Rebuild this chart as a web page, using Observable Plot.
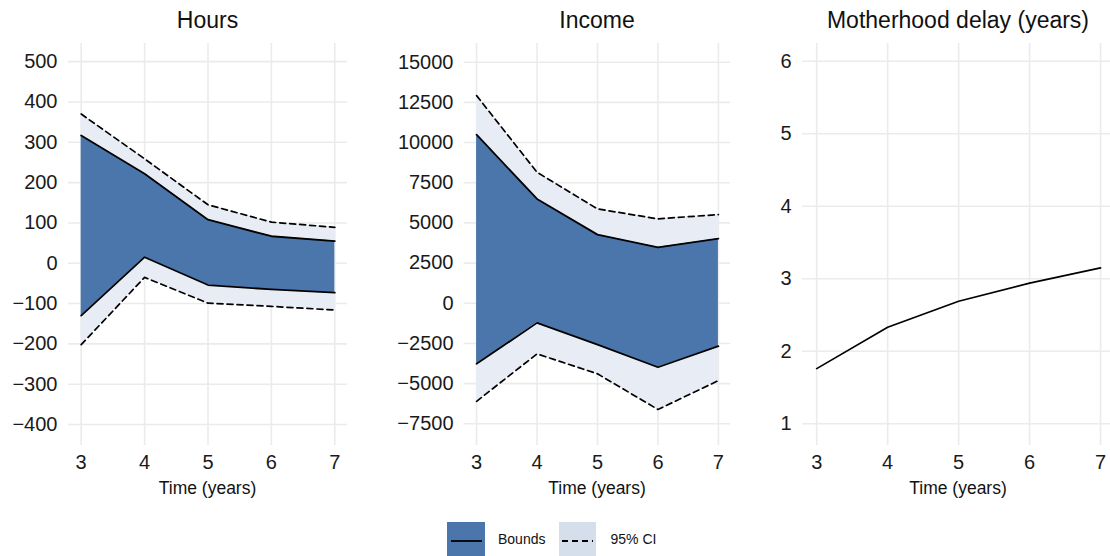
<!DOCTYPE html>
<html>
<head>
<meta charset="utf-8">
<script src="https://cdn.jsdelivr.net/npm/d3@7"></script>
<script src="https://cdn.jsdelivr.net/npm/@observablehq/plot@0.6"></script>
<style>
  body { margin: 0; background: #fff; font-family: "Liberation Sans", Arial, sans-serif; color: #111; }
  #wrap { position: relative; width: 1110px; height: 556px; overflow: hidden; background: #fff; }
  .panel { position: absolute; top: 35px; }
  .title { position: absolute; top: 8px; height: 24px; line-height: 24px; font-size: 23px; text-align: center; white-space: nowrap; }
  .xlab { position: absolute; top: 479px; height: 18px; line-height: 18px; font-size: 17.5px; text-align: center; white-space: nowrap; }
  .legend { position: absolute; top: 522px; left: 447px; height: 34px; display: flex; align-items: center; font-size: 14px; }
  .legend svg { display: block; }
</style>
</head>
<body>
<div id="wrap"></div>
<script>
// ---- data ----
const years = [3, 4, 5, 6, 7];

const hoursCiUpper    = [370, 259, 145, 102, 89];
const hoursBoundUpper = [317, 222, 108, 67, 55];
const hoursBoundLower = [-130, 15, -54, -65, -73];
const hoursCiLower    = [-202, -35, -99, -107, -116];

const incomeCiUpper    = [12920, 8150, 5870, 5250, 5520];
const incomeBoundUpper = [10490, 6490, 4270, 3480, 4020];
const incomeBoundLower = [-3770, -1220, -2570, -3980, -2670];
const incomeCiLower    = [-6100, -3150, -4390, -6610, -4810];

const motherhoodDelay = [1.76, 2.33, 2.69, 2.94, 3.15];

const hoursTicks  = [-400, -300, -200, -100, 0, 100, 200, 300, 400, 500];
const incomeTicks = [-7500, -5000, -2500, 0, 2500, 5000, 7500, 10000, 12500, 15000];
const delayTicks  = [1, 2, 3, 4, 5, 6];

const panelTitles = ["Hours", "Income", "Motherhood delay (years)"];
const xLabel = "Time (years)";
const legendLabels = ["Bounds", "95% CI"];

// ---- styling ----
const boundsFill = "#4a76ab";
const ciFill = "#e8edf5";
const ciKeyFill = "#d5deeb";
const gridColor = "#ebebeb";
const fmt = d => (d < 0 ? "\u2212" + Math.abs(d) : String(d));

const wrap = document.getElementById("wrap");

function addDiv(cls, text, left, width) {
  const d = document.createElement("div");
  d.className = cls;
  d.textContent = text;
  d.style.left = left + "px";
  d.style.width = width + "px";
  wrap.appendChild(d);
}

function panel({left, width, marginLeft, marginRight, xDomain, yDomain, ticks, ribbons, lineValues, title}) {
  const marks = [
    Plot.ruleX(years, {stroke: gridColor, strokeWidth: 1.6}),
    Plot.ruleY(ticks, {stroke: gridColor, strokeWidth: 1.6})
  ];
  if (ribbons) {
    const rows = years.map((x, i) => ({
      x,
      ciU: ribbons.ciU[i], bU: ribbons.bU[i], bL: ribbons.bL[i], ciL: ribbons.ciL[i]
    }));
    marks.push(
      Plot.areaY(rows, {x: "x", y1: "ciL", y2: "ciU", fill: ciFill}),
      Plot.areaY(rows, {x: "x", y1: "bL", y2: "bU", fill: boundsFill}),
      Plot.line(rows, {x: "x", y: "ciU", stroke: "#000", strokeWidth: 1.7, strokeDasharray: "6,4"}),
      Plot.line(rows, {x: "x", y: "ciL", stroke: "#000", strokeWidth: 1.7, strokeDasharray: "6,4"}),
      Plot.line(rows, {x: "x", y: "bU", stroke: "#000", strokeWidth: 1.8}),
      Plot.line(rows, {x: "x", y: "bL", stroke: "#000", strokeWidth: 1.8})
    );
  }
  if (lineValues) {
    const rows = years.map((x, i) => ({x, y: lineValues[i]}));
    marks.push(Plot.line(rows, {x: "x", y: "y", stroke: "#000", strokeWidth: 1.7}));
  }
  const svg = Plot.plot({
    width,
    height: 470,
    marginTop: 8,
    marginBottom: 60,
    marginLeft,
    marginRight,
    style: {fontFamily: "'Liberation Sans', Arial, sans-serif", fontSize: "20px", color: "#1a1a1a", background: "transparent", overflow: "visible"},
    x: {domain: xDomain, ticks: years, tickSize: 0, tickPadding: 9, tickFormat: fmt, label: null},
    y: {domain: yDomain, ticks, tickSize: 0, tickPadding: 11, tickFormat: fmt, label: null},
    marks
  });
  svg.classList.add("panel");
  svg.style.left = left + "px";
  svg.style.position = "absolute";
  svg.style.top = "35px";
  wrap.appendChild(svg);
  const plotLeft = left + marginLeft;
  const plotRight = left + width - marginRight;
  const plotRightExt = title === panelTitles[2] ? 1114 : plotRight;
  addDiv("title", title, plotLeft - 100, plotRightExt - plotLeft + 200);
  addDiv("xlab", xLabel, plotLeft - 100, plotRightExt - plotLeft + 200);
}

panel({
  left: 0, width: 360, marginLeft: 68, marginRight: 13,
  xDomain: [2.8, 7.2], yDomain: [-452, 545], ticks: hoursTicks,
  ribbons: {ciU: hoursCiUpper, bU: hoursBoundUpper, bL: hoursBoundLower, ciL: hoursCiLower},
  title: panelTitles[0]
});
panel({
  left: 370, width: 370, marginLeft: 94, marginRight: 10,
  xDomain: [2.8, 7.2], yDomain: [-8850, 16163], ticks: incomeTicks,
  ribbons: {ciU: incomeCiUpper, bU: incomeBoundUpper, bL: incomeBoundLower, ciL: incomeCiLower},
  title: panelTitles[1]
});
panel({
  left: 740, width: 370, marginLeft: 62, marginRight: 0,
  xDomain: [2.8, 7.14], yDomain: [0.70, 6.244], ticks: delayTicks,
  lineValues: motherhoodDelay,
  title: panelTitles[2]
});

// ---- legend ----
const legend = document.createElement("div");
legend.className = "legend";
legend.innerHTML = `
  <svg width="38" height="34"><rect width="38" height="34" fill="${boundsFill}"/><line x1="4" x2="35" y1="19" y2="19" stroke="#000" stroke-width="1.8"/></svg>
  <span style="margin-left:13px;margin-right:14px">${legendLabels[0]}</span>
  <svg width="37" height="34"><rect width="37" height="34" fill="${ciKeyFill}"/><line x1="3" x2="34" y1="19" y2="19" stroke="#000" stroke-width="1.8" stroke-dasharray="6,4"/></svg>
  <span style="margin-left:14px">${legendLabels[1]}</span>`;
wrap.appendChild(legend);
</script>
</body>
</html>
